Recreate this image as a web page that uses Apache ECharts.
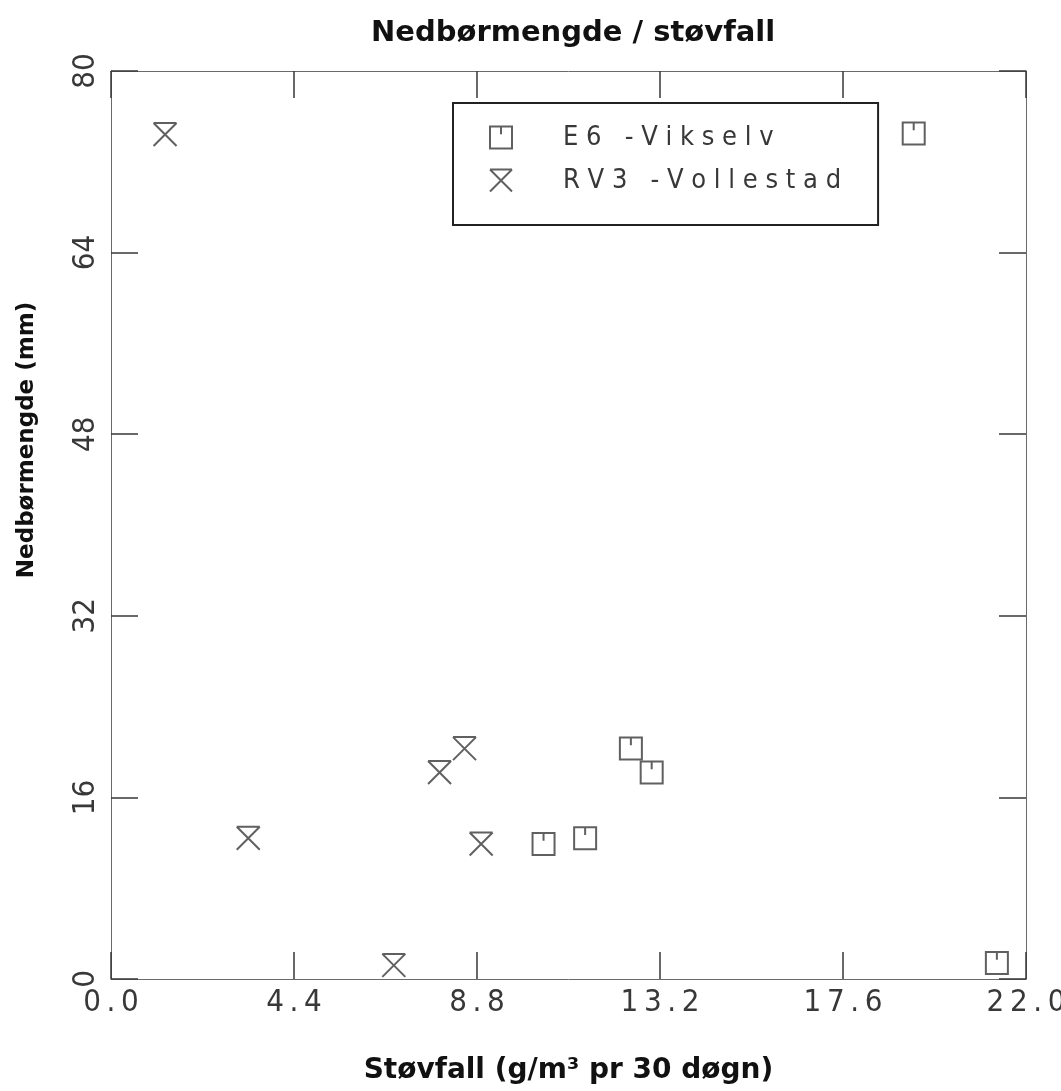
<!DOCTYPE html>
<html>
<head>
<meta charset="utf-8">
<script src="https://cdn.jsdelivr.net/npm/echarts@6/dist/echarts.min.js"></script>
<style>
  html, body { margin: 0; padding: 0; background: #fff; }
  #chart { width: 1061px; height: 1091px; }
</style>
</head>
<body>
<div id="chart"></div>
<script>
// Støvfall (g/m³ pr 30 døgn) vs nedbørmengde (mm) for two measuring stations
const e6Name = 'E6 -Vikselv';
const rv3Name = 'RV3 -Vollestad';

const e6Stovfall = [19.3, 12.5, 13.0, 10.4, 11.4, 21.3];
const e6Nedbor   = [74.5, 20.3, 18.2, 11.9, 12.4, 1.4];

const rv3Stovfall = [1.3, 3.3, 6.8, 8.9, 7.9, 8.5];
const rv3Nedbor   = [74.4, 12.4, 1.2, 11.9, 18.2, 20.3];

const xTickValues = [0, 4.4, 8.8, 13.2, 17.6, 22.0];
const xTickLabels = ['0.0', '4.4', '8.8', '13.2', '17.6', '22.0'];
const yTickValues = [0, 16, 32, 48, 64, 80];
const yTickLabels = ['0', '16', '32', '48', '64', '80'];

const ink = '#383838';
const frame = '#6a6a6a';
const THIN = '\u2009';

// square with a short notch hanging from the top edge
const squareSymbol = 'path://M0,0 L20,0 L20,20 L0,20 Z M10,0 L10,7';
// cross capped with a bar along the top
const crossSymbol = 'path://M0,0 L20,0 M0,0 L20,20 M20,0 L0,20';

function pairs(xs, ys) { return xs.map((x, i) => [x, ys[i]]); }

// plotter-style lettering: characters set apart
function spaced(s, gap) { return s.split('').join(gap); }

function labelFor(values, labels, gap) {
  return v => {
    const i = values.findIndex(t => Math.abs(t - v) < 1e-6);
    return i >= 0 ? spaced(labels[i], gap) : '';
  };
}

const narrow = "'DejaVu Sans Condensed', 'DejaVu Sans', sans-serif";
const tickFont = { fontFamily: narrow, fontSize: 31, color: ink };
const boldFont = { fontFamily: "'DejaVu Sans', sans-serif", fontWeight: 'bold', color: '#111' };

function frameAxis(extra) {
  return Object.assign({
    type: 'value',
    axisLine: { show: true, onZero: false, lineStyle: { color: frame, width: 1 } },
    axisTick: { show: true, inside: true, length: 27, lineStyle: { color: ink, width: 1.5 } },
    splitLine: { show: false }
  }, extra);
}

const chart = echarts.init(document.getElementById('chart'), null, { renderer: 'canvas' });

chart.setOption({
  backgroundColor: '#fff',
  animation: false,
  title: {
    text: 'Nedbørmengde / støvfall',
    left: 366,
    top: 14,
    textStyle: Object.assign({ fontSize: 29 }, boldFont)
  },
  grid: { left: 111, right: 35, top: 71, bottom: 112, containLabel: false, outerBoundsMode: 'none' },
  legend: {
    orient: 'vertical',
    left: 453,
    top: 103,
    padding: [21, 37, 31, 36],
    itemGap: 16,
    itemWidth: 22,
    itemHeight: 22,
    borderColor: '#222',
    borderWidth: 2,
    borderRadius: 0,
    data: [e6Name, rv3Name],
    formatter: name => spaced(name, ' '),
    textStyle: Object.assign({}, tickFont, { fontSize: 27, padding: [0, 0, 0, 46] })
  },
  xAxis: [frameAxis({
    min: 0, max: 22, interval: 4.4,
    position: 'bottom',
    name: 'Støvfall (g/m³ pr 30 døgn)',
    nameLocation: 'middle',
    nameGap: 78,
    nameTextStyle: Object.assign({ fontSize: 28 }, boldFont),
    axisLabel: Object.assign({ margin: 8, formatter: labelFor(xTickValues, xTickLabels, THIN) }, tickFont)
  }), frameAxis({
    min: 0, max: 22, interval: 4.4,
    position: 'top',
    axisLabel: { show: false }
  })],
  yAxis: [frameAxis({
    min: 0, max: 80, interval: 16,
    position: 'left',
    name: 'Nedbørmengde (mm)',
    nameLocation: 'middle',
    nameGap: 72,
    nameTextStyle: Object.assign({ fontSize: 23, padding: [0, 0, 0, 170] }, boldFont),
    axisLabel: Object.assign({ margin: 10, rotate: 90, formatter: labelFor(yTickValues, yTickLabels, '') }, tickFont)
  }), frameAxis({
    min: 0, max: 80, interval: 16,
    position: 'right',
    axisLabel: { show: false }
  })],
  series: [{
    name: e6Name,
    type: 'scatter',
    xAxisIndex: 0, yAxisIndex: 0,
    symbol: squareSymbol,
    symbolSize: 22,
    itemStyle: { color: 'rgba(0,0,0,0)', borderColor: ink, borderWidth: 2 },
    data: pairs(e6Stovfall, e6Nedbor)
  }, {
    name: rv3Name,
    type: 'scatter',
    xAxisIndex: 0, yAxisIndex: 0,
    symbol: crossSymbol,
    symbolSize: 23,
    itemStyle: { color: 'rgba(0,0,0,0)', borderColor: ink, borderWidth: 2 },
    data: pairs(rv3Stovfall, rv3Nedbor)
  }]
});
</script>
</body>
</html>
